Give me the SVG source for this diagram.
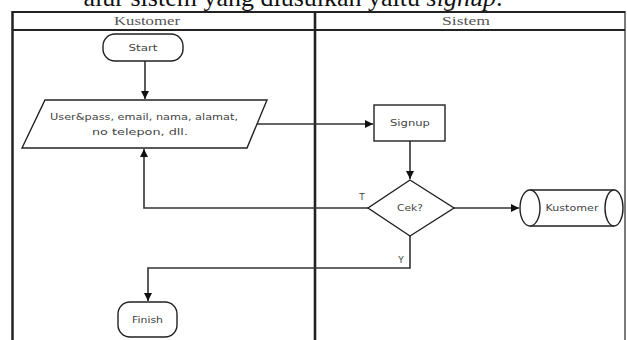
<svg xmlns="http://www.w3.org/2000/svg" width="627" height="340" viewBox="0 0 627 340">
  <defs>
    <marker id="arrow" viewBox="0 0 10 10" refX="10" refY="5" markerWidth="8" markerHeight="8" markerUnits="userSpaceOnUse" orient="auto">
      <path d="M0,0 L10,5 L0,10 z" fill="#111"/>
    </marker>
    <style>
      .shape { fill: #fff; stroke: #222; stroke-width: 1.4; }
      .edge { fill: none; stroke: #333; stroke-width: 1.6; }
      .lbl { font-family: "DejaVu Sans", sans-serif; font-size: 9px; fill: #444; text-anchor: middle; dominant-baseline: central; }
      .lane { font-family: "Liberation Serif", serif; font-size: 12px; fill: #555; text-anchor: middle; }
      .frame { stroke: #222; fill: none; }
    </style>
  </defs>
  <rect width="627" height="340" fill="#fff"/>

  <!-- caption line above the chart (clipped by the top edge) -->
  <text x="293" y="6" font-family="Liberation Serif, serif" font-size="26" fill="#111" text-anchor="middle">alur sistem yang diusulkan yaitu <tspan font-style="italic">signup</tspan>.</text>

  <!-- swimlane frame -->
  <g id="lanes">
    <line class="frame" x1="12" y1="12" x2="625" y2="12" stroke-width="2"/>
    <line class="frame" x1="12" y1="30" x2="625" y2="30" stroke-width="2.2"/>
    <line class="frame" x1="12.5" y1="11" x2="12.5" y2="340" stroke-width="2.5"/>
    <line class="frame" x1="315" y1="11" x2="315" y2="340" stroke-width="2.6"/>
    <line class="frame" x1="625" y1="11" x2="625" y2="340" stroke-width="1.2"/>
    <text class="lane" x="147" y="25" textLength="66" lengthAdjust="spacingAndGlyphs">Kustomer</text>
    <text class="lane" x="466" y="25" textLength="48" lengthAdjust="spacingAndGlyphs">Sistem</text>
  </g>

  <!-- connectors -->
  <g id="connectors">
    <line class="edge" x1="145" y1="61" x2="145" y2="99" marker-end="url(#arrow)"/>
    <line class="edge" x1="257" y1="124" x2="373" y2="124" marker-end="url(#arrow)"/>
    <line class="edge" x1="410" y1="141" x2="410" y2="179" marker-end="url(#arrow)"/>
    <line class="edge" x1="454" y1="208" x2="519" y2="208" marker-end="url(#arrow)"/>
    <polyline class="edge" points="368,208 144,208 144,149" marker-end="url(#arrow)"/>
    <polyline class="edge" points="410,236 410,268 148,268 148,301" marker-end="url(#arrow)"/>
    <text class="lbl" x="362" y="197">T</text>
    <text class="lbl" x="401" y="260">Y</text>
  </g>

  <g id="start">
    <rect class="shape" x="103" y="34" width="80" height="27" rx="12" ry="12"/>
    <text class="lbl" x="143" y="47.5" textLength="29" lengthAdjust="spacingAndGlyphs">Start</text>
  </g>

  <g id="input">
    <polygon class="shape" points="45,100 267,100 247,148 22,148"/>
    <text class="lbl" x="144" y="117" textLength="188" lengthAdjust="spacingAndGlyphs">User&amp;pass, email, nama, alamat,</text>
    <text class="lbl" x="140" y="132" textLength="96" lengthAdjust="spacingAndGlyphs">no telepon, dll.</text>
  </g>

  <g id="signup">
    <rect class="shape" x="374" y="105" width="71" height="36"/>
    <text class="lbl" x="410" y="123" textLength="40" lengthAdjust="spacingAndGlyphs">Signup</text>
  </g>

  <g id="cek">
    <polygon class="shape" points="410,180 454,208 410,236 368,208"/>
    <text class="lbl" x="410" y="208" textLength="26" lengthAdjust="spacingAndGlyphs">Cek?</text>
  </g>

  <g id="kustomer-store">
    <path class="shape" d="M530,190 L614,190 A9,18 0 0 1 614,226 L530,226 A10,18 0 0 1 530,190 Z"/>
    <path class="shape" fill="none" d="M530,190 A10,18 0 0 1 530,226"/>
    <path class="shape" fill="none" d="M614,190 A9,18 0 0 0 614,226"/>
    <text class="lbl" x="572" y="208" textLength="53" lengthAdjust="spacingAndGlyphs">Kustomer</text>
  </g>

  <g id="finish">
    <rect class="shape" x="118" y="302" width="59" height="35" rx="12" ry="12"/>
    <text class="lbl" x="147.5" y="319.5" textLength="31" lengthAdjust="spacingAndGlyphs">Finish</text>
  </g>
</svg>
